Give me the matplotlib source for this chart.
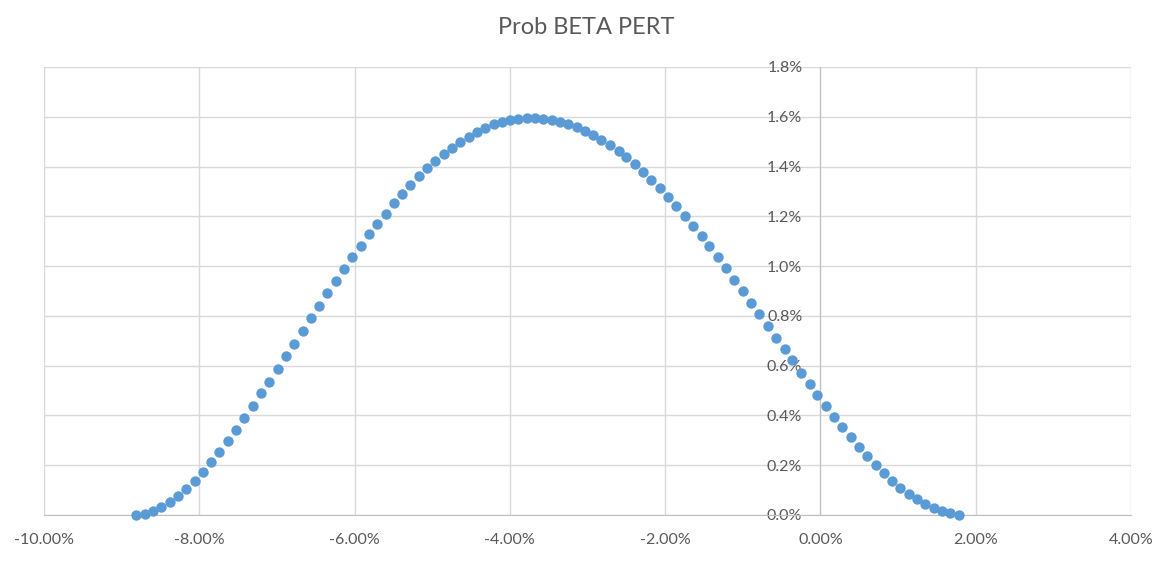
import matplotlib
matplotlib.use("Agg")
import matplotlib.pyplot as plt
from matplotlib.ticker import FuncFormatter, MultipleLocator

# x values (percent) and probability (percent)
x_pct = [-8.81, -8.70, -8.60, -8.49, -8.38, -8.28, -8.17, -8.06, -7.95, -7.85,
         -7.74, -7.63, -7.53, -7.42, -7.31, -7.21, -7.10, -6.99, -6.88, -6.78,
         -6.67, -6.56, -6.46, -6.35, -6.24, -6.14, -6.03, -5.92, -5.81, -5.71,
         -5.60, -5.49, -5.39, -5.28, -5.17, -5.07, -4.96, -4.85, -4.74, -4.64,
         -4.53, -4.42, -4.32, -4.21, -4.10, -4.00, -3.89, -3.78, -3.67, -3.57,
         -3.46, -3.35, -3.25, -3.14, -3.03, -2.93, -2.82, -2.71, -2.60, -2.50,
         -2.39, -2.28, -2.18, -2.07, -1.96, -1.86, -1.75, -1.64, -1.53, -1.43,
         -1.32, -1.21, -1.11, -1.00, -0.89, -0.79, -0.68, -0.57, -0.46, -0.36,
         -0.25, -0.14, -0.04, 0.07, 0.18, 0.28, 0.39, 0.50, 0.60, 0.71,
         0.82, 0.92, 1.03, 1.14, 1.25, 1.35, 1.46, 1.57, 1.67, 1.78]

prob_pct = [0.000, 0.004, 0.017, 0.033, 0.051, 0.076, 0.106, 0.138, 0.174, 0.213,
            0.253, 0.299, 0.342, 0.390, 0.438, 0.490, 0.536, 0.587, 0.639, 0.688,
            0.739, 0.791, 0.841, 0.892, 0.940, 0.990, 1.037, 1.081, 1.129, 1.170,
            1.211, 1.252, 1.288, 1.326, 1.362, 1.394, 1.423, 1.452, 1.476, 1.500,
            1.520, 1.539, 1.555, 1.570, 1.580, 1.588, 1.592, 1.596, 1.596, 1.592,
            1.587, 1.579, 1.572, 1.559, 1.543, 1.528, 1.507, 1.488, 1.462, 1.440,
            1.411, 1.379, 1.346, 1.314, 1.278, 1.242, 1.202, 1.161, 1.122, 1.082,
            1.037, 0.991, 0.944, 0.901, 0.853, 0.808, 0.759, 0.712, 0.668, 0.623,
            0.572, 0.528, 0.483, 0.439, 0.395, 0.355, 0.315, 0.274, 0.237, 0.201,
            0.170, 0.138, 0.110, 0.084, 0.064, 0.044, 0.028, 0.017, 0.009, 0.001]

title = "Prob BETA PERT"

plt.rcParams['font.family'] = ['Lato', 'DejaVu Sans']
text_col = '#595959'
grid_col = '#d9d9d9'
axis_col = '#bfbfbf'

fig = plt.figure(figsize=(11.73, 5.64), dpi=100)
ax = fig.add_axes([44 / 1173, 49 / 564, 1087 / 1173, 448 / 564])

ax.scatter(x_pct, prob_pct, s=56, color='#5b9bd5', zorder=3, clip_on=False,
           linewidths=0)

ax.set_xlim(-10, 4)
ax.set_ylim(0, 1.8)
ax.xaxis.set_major_locator(MultipleLocator(2))
ax.yaxis.set_major_locator(MultipleLocator(0.2))
ax.xaxis.set_major_formatter(FuncFormatter(lambda v, p: f"{v:.2f}%"))
ax.yaxis.set_major_formatter(FuncFormatter(lambda v, p: f"{v:.1f}%"))

ax.grid(True, color=grid_col, linewidth=1, zorder=0)
ax.set_axisbelow(True)

for s in ['top', 'right']:
    ax.spines[s].set_visible(False)
ax.spines['left'].set_position(('data', 0))
ax.spines['left'].set_color(axis_col)
ax.spines['bottom'].set_color(axis_col)
ax.spines['left'].set_zorder(1)
ax.spines['bottom'].set_zorder(1)

ax.tick_params(axis='both', length=0, labelsize=11.5, labelcolor=text_col)
ax.tick_params(axis='x', pad=13)
ax.tick_params(axis='y', pad=13)

fig.text(0.5, 1 - 27 / 564, title, ha='center', va='center',
         fontsize=17, color=text_col)

fig.savefig("out.png", dpi=100)
